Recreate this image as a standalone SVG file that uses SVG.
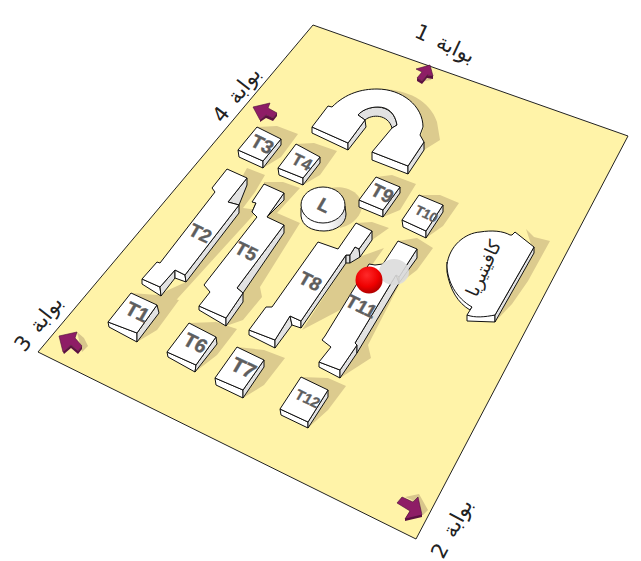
<svg xmlns="http://www.w3.org/2000/svg" width="641" height="561" viewBox="0 0 641 561">
<defs>
<radialGradient id="ball" cx="0.42" cy="0.32" r="0.72"><stop offset="0" stop-color="#ff2a2a"/><stop offset="0.6" stop-color="#ee0000"/><stop offset="1" stop-color="#a80000"/></radialGradient>
<linearGradient id="cyl" x1="0" y1="0" x2="1" y2="0"><stop offset="0" stop-color="#fff"/><stop offset="0.55" stop-color="#fff"/><stop offset="1" stop-color="#d8d8d8"/></linearGradient>
</defs>
<style>
.s{fill:#dccb8e;stroke:none}
.t{fill:#fff;stroke:#111;stroke-width:1;stroke-linejoin:round}
.f{fill:#fff;stroke:#111;stroke-width:1;stroke-linejoin:round}
.g{fill:#e2e2e2;stroke:#111;stroke-width:1;stroke-linejoin:round}
.a{fill:#8e1d66;stroke:#4a0f35;stroke-width:.6;stroke-linejoin:round}
.d{fill:#5c1142}
.as{fill:#d8c68c}
.l{font-family:"Liberation Sans",Arial,sans-serif;font-weight:bold;fill:#5e5e5e;stroke:#5e5e5e;stroke-width:.4;font-size:19px;text-anchor:middle}
.ar{font-family:"DejaVu Sans","Noto Sans",sans-serif;fill:#222;font-size:21px;text-anchor:middle;word-spacing:4px}
</style>
<rect width="641" height="561" fill="#fff"/>
<polygon id="ground" points="313,25 628,136 416,539 38,352" fill="#fff3a8" stroke="#222" stroke-width="1"/>

<g id="shadows">
<polygon class="s" points="257,127 277,126 298,134 281,157 263,168 281,139"/>
<polygon class="s" points="296,144 314,143 337,151 320,175 303,185 320,157"/>
<path class="s" d="M377,89 C405,88 430,100 437,122 L440,140 L424,150 L408,174 L424,127 Z"/>
<polygon class="s" points="376,177 392,175 416,184 400,210 383,217 400,187"/>
<polygon class="s" points="419,195 440,195 459,203 443,226 426,238 443,205"/>
<path class="s" d="M325,190 C340,183 362,190 362,207 C360,220 348,226 340,228 Z"/>
<polygon class="s" points="247,168 265,175 255,192 243,208 258,210 178,298 163,317 146,300 186,282 239,213 228,202"/>
<polygon class="s" points="264,182 283,182 300,188 277,213 300,223 260,287 262,297 243,320 226,326 243,293 284,233 267,217"/>
<polygon class="s" points="356,223 372,222 389,228 372,240 359,257 384,248 340,310 302,330 346,263"/>
<polygon class="s" points="398,241 417,238 433,248 417,270 400,283 368,345 371,358 340,378 357,345 399,277 417,249"/>
<polygon class="s" points="131,293 157,295 179,300 157,330 137,342 159,313 157,305"/>
<polygon class="s" points="189,323 216,322 237,329 217,355 195,372 217,344"/>
<polygon class="s" points="237,347 264,350 285,358 264,385 243,398 264,367"/>
<polygon class="s" points="301,377 328,378 346,386 328,410 308,428 328,397"/>
<polygon class="s" points="526,229 534,237 550,241 528,281 512,304 495,322 534,253"/>
</g>

<g id="gate1"><polygon class="as" points="420,82 431,80 437,70 433,76"/><polygon class="d" points="417,78 422,81 427,75 433,76 433,79 427,78 422,84 417,81"/><polygon class="a" points="416,69 430,65 433,76 427,75 422,81 417,78 422,72"/><text class="ar" transform="translate(442,50) rotate(25)">بوابة 1</text></g>
<g id="gate4"><polygon class="d" points="260,120 266,115 273,118 277,113 277,116 273,121 266,118 260,122"/><polygon class="a" points="253,107 270,103 268,108 277,113 273,118 266,115 260,120"/><text class="ar" transform="translate(242,99) rotate(-52)">بوابة 4</text></g>
<g id="gate3"><polygon class="as" points="77,332 84,338 88,346 82,352"/><polygon class="d" points="63,352 71,345 78,351 82,346 82,349 78,354 71,348 64,354"/><polygon class="a" points="59,336 77,332 75,338 82,346 78,351 71,345 63,352"/><text class="ar" transform="translate(44,328) rotate(-52)">بوابة 3</text></g>
<g id="gate2"><polygon class="as" points="405,497 419,494 428,510 423,515 412,500"/><polygon class="d" points="405,519 410,511 422,515 422,517 405,521"/><polygon class="a" points="422,515 418,497 413,502 402,497 397,503 410,511 405,519"/><text class="ar" transform="translate(458,532) rotate(-62)">بوابة 2</text></g>

<g id="T3"><polygon class="f" points="238,150 263,161 263,168 239,157"/><polygon class="g" points="263,161 281,139 281,145 263,168"/><polygon class="t" points="238,150 257,127 281,139 263,161"/><text class="l" transform="matrix(.9 .42 -.5 .86 259,150)">T3</text></g>
<g id="T4"><polygon class="f" points="278,168 303,178 303,185 279,175"/><polygon class="g" points="303,178 320,157 320,163 303,185"/><polygon class="t" points="278,168 296,144 320,157 303,178"/><text class="l" transform="matrix(.9 .42 -.5 .86 299,167) scale(.9)">T4</text></g>

<g id="arch">
<polygon class="f" points="312,127 348,143 348,150 312,133"/>
<polygon class="g" points="348,143 365,120 366,127 348,150"/>
<polygon class="f" points="372,152 408,166 408,174 372,160"/>
<polygon class="g" points="408,166 424,142 424,150 408,174"/>
<path class="g" d="M358,115 L365,120 C372,114 388,114 392,128 L397,125 C395,113 388,108 378,107 C370,107 362,110 358,115 Z"/>
<path class="t" d="M312,127 L328,106 L332,107 C346,93 362,89 377,89 C402,89 423,106 423,127 L420,135 L424,142 L408,166 L372,152 L392,128 L397,125 C395,113 388,107 378,107 C370,107 362,110 358,115 L365,120 L348,143 Z"/>
</g>

<g id="T9"><polygon class="f" points="359,200 383,210 383,217 359,207"/><polygon class="g" points="383,210 400,187 400,193 383,217"/><polygon class="t" points="359,200 376,177 400,187 383,210"/><text class="l" transform="matrix(.9 .42 -.5 .86 379,199)">T9</text></g>
<g id="T10"><polygon class="f" points="402,220 426,231 426,238 403,227"/><polygon class="g" points="426,231 443,205 443,212 426,238"/><polygon class="t" points="402,220 419,195 443,205 426,231"/><text class="l" transform="matrix(.9 .42 -.5 .86 424,218) scale(.72)">T10</text></g>

<g id="L"><path d="M301,208 L301,216 C302,226 312,231 324,231 C336,231 346,224 346,214 L345,206 Z" fill="url(#cyl)" stroke="#111"/><ellipse class="t" cx="323" cy="205" rx="22" ry="18"/><text class="l" transform="matrix(.9 .42 -.5 .86 321,211)">L</text></g>

<g id="T2">
<polygon class="f" points="142,279 160,287 161,296 142,284"/>
<polygon class="g" points="160,287 175,270 175,278 161,296"/>
<polygon class="f" points="175,270 185,275 186,282 175,278"/>
<polygon class="g" points="185,275 239,205 239,213 186,282"/>
<polygon class="g" points="228,202 247,178 247,185 239,205"/>
<polygon class="t" points="227,169 247,178 228,202 239,205 185,275 175,270 160,287 142,279 157,262 160,263 215,192 212,188"/>
<text class="l" transform="matrix(.9 .42 -.5 .86 197,239)">T2</text>
</g>
<g id="T5">
<polygon class="f" points="199,306 226,318 226,326 199,310"/>
<polygon class="g" points="226,318 243,293 243,302 226,326"/>
<polygon class="g" points="237,288 284,225 284,233 243,293"/>
<polygon class="g" points="267,217 284,193 284,200 267,217"/>
<polygon class="g" points="252,212 256,203 262,216 257,217"/>
<polygon class="t" points="264,184 284,193 267,217 284,225 237,288 243,293 226,318 199,306 210,292 204,285 207,281 257,217 252,212 256,203 252,202"/>
<text class="l" transform="matrix(.9 .42 -.5 .86 243,257)">T5</text>
</g>
<g id="T8">
<polygon class="f" points="249,330 275,340 275,348 249,335"/>
<polygon class="g" points="275,340 290,316 292,325 275,348"/>
<polygon class="f" points="290,316 301,321 301,328 292,325"/>
<polygon class="g" points="301,321 346,255 346,263 301,328"/>
<polygon class="g" points="346,255 350,255 350,263 346,263"/>
<polygon class="g" points="355,247 359,249 360,257 350,263 350,255"/>
<polygon class="g" points="359,249 372,231 372,240 360,257"/>
<polygon class="t" points="318,242 338,249 356,223 372,231 359,249 355,247 350,255 346,255 301,321 290,316 275,340 249,330 266,307 272,307"/>
<text class="l" transform="matrix(.9 .42 -.5 .86 307,287)">T8</text>
</g>
<g id="T11">
<polygon class="f" points="319,362 340,370 340,378 319,367"/>
<polygon class="g" points="340,370 357,345 357,353 340,378"/>
<polygon class="g" points="355,343 396,275 399,283 357,353 357,345"/>
<polygon class="g" points="399,277 417,249 417,258 399,283"/>
<polygon class="t" points="398,241 417,249 399,277 396,275 355,343 357,345 340,370 319,362 331,347 322,340 325,336 369,264 375,265 383,264"/>
<ellipse cx="394" cy="272" rx="15" ry="13" fill="#dcdcdc" opacity=".9"/>
<text class="l" transform="matrix(.9 .42 -.5 .86 358,312)">T11</text>
<circle cx="369" cy="280" r="13.5" fill="url(#ball)"/>
</g>

<g id="T1"><polygon class="f" points="108,322 137,333 137,342 109,327"/><polygon class="g" points="137,333 157,305 159,313 137,342"/><polygon class="t" points="108,322 131,293 157,305 137,333"/><text class="l" transform="matrix(.9 .42 -.5 .86 134,318) scale(1.05)">T1</text></g>
<g id="T6"><polygon class="f" points="167,352 196,365 195,372 168,357"/><polygon class="g" points="196,365 216,337 217,344 195,372"/><polygon class="t" points="167,352 189,323 216,337 196,365"/><text class="l" transform="matrix(.9 .42 -.5 .86 192,349) scale(1.05)">T6</text></g>
<g id="T7"><polygon class="f" points="215,378 243,390 243,398 216,385"/><polygon class="g" points="243,390 264,360 264,367 243,398"/><polygon class="t" points="215,378 237,347 264,360 243,390"/><text class="l" transform="matrix(.9 .42 -.5 .86 240,374) scale(1.1)">T7</text></g>
<g id="T12"><polygon class="f" points="280,409 308,422 308,428 281,415"/><polygon class="g" points="308,422 328,390 328,397 308,428"/><polygon class="t" points="280,409 301,377 328,390 308,422"/><text class="l" transform="matrix(.9 .42 -.5 .86 305,403) scale(.78)">T12</text></g>

<g id="cafeteria">
<path class="f" d="M447,262 L447,272 C450,290 458,303 470,310 L472,307 Z"/>
<polygon class="f" points="467,315 495,315 495,322 467,321"/>
<polygon class="g" points="495,315 534,247 534,253 495,322"/>
<path class="t" d="M512,235 L515,232 L534,247 L495,315 C485,317 475,318 467,315 L472,307 C456,298 447,281 447,265 C449,246 465,233 480,232 C492,230 503,231 510,235 Z"/>
<text font-family="&quot;DejaVu Sans&quot;,&quot;Noto Sans&quot;,sans-serif" font-size="18" fill="#222" text-anchor="middle" transform="translate(489,271) rotate(-65)">كافيتيريا</text>
</g>
</svg>
